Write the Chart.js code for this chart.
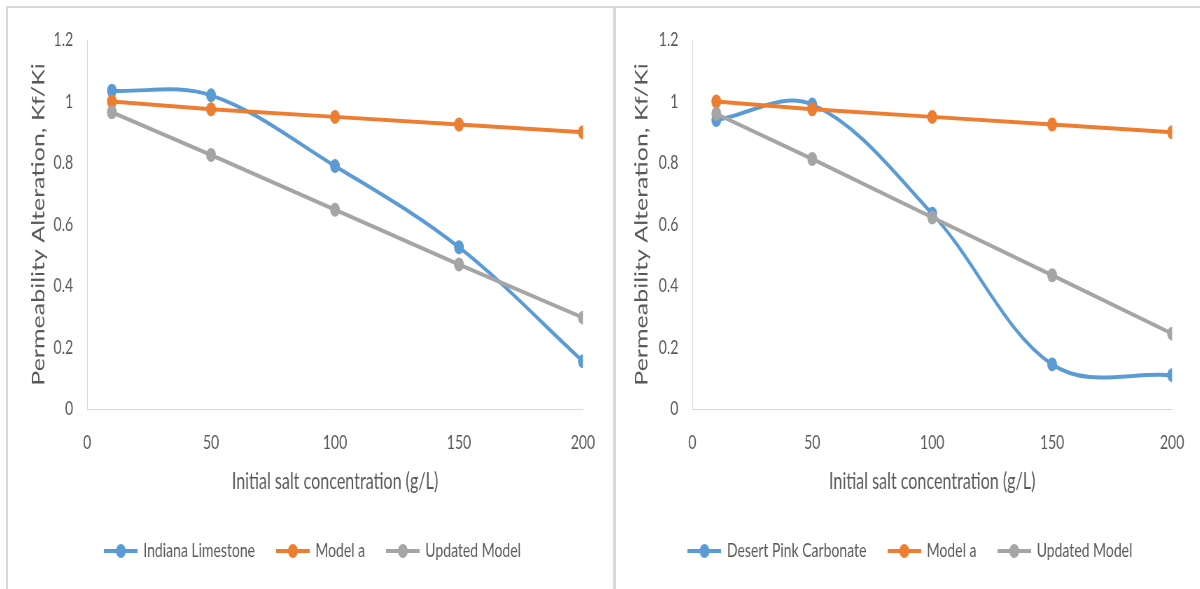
<!DOCTYPE html>
<html>
<head>
<meta charset="utf-8">
<script src="https://cdn.jsdelivr.net/npm/chart.js@4.4.1/dist/chart.umd.min.js"></script>
<style>
  html, body { margin: 0; padding: 0; background: #fff; }
  body { width: 1200px; height: 589px; position: relative; overflow: hidden; }
  .panel { position: absolute; top: 6px; height: 600px; border: 2px solid #d9d9d9; border-bottom: none; box-sizing: border-box; overflow: hidden; background: #fff; }
  .squash { position: absolute; left: 0; top: 0; height: 583px; transform-origin: 0 0; }
</style>
</head>
<body>
<div class="panel" style="left:6px; width:609px;"><div class="squash" id="wrapLeft"><canvas id="chartLeft"></canvas></div></div>
<div class="panel" style="left:614px; width:600px;"><div class="squash" id="wrapRight"><canvas id="chartRight"></canvas></div></div>
<script>
// Data
const concentration = [10, 50, 100, 150, 200];
const indianaLimestone = [1.035, 1.02, 0.79, 0.526, 0.155];
const desertPinkCarbonate = [0.94, 0.99, 0.635, 0.145, 0.11];
const modelA = [1.0, 0.975, 0.95, 0.925, 0.9];
const updatedModelIndiana = [0.965, 0.826, 0.648, 0.47, 0.297];
const updatedModelDesert = [0.96, 0.813, 0.623, 0.435, 0.245];
const xTicks = [0, 50, 100, 150, 200];
const yTicks = [0, 0.2, 0.4, 0.6, 0.8, 1, 1.2];
const yTickLabels = ['0', '0.2', '0.4', '0.6', '0.8', '1', '1.2'];

const BLUE = '#5b9bd5';
const ORANGE = '#ed7d31';
const GRAY = '#a5a5a5';
const TEXT = '#595959';
const AXIS = '#d9d9d9';
const SQ = 0.7; // horizontal squeeze of the whole drawing

Chart.defaults.font.family = 'Lato, "Open Sans", sans-serif';

// line + dot swatch for the legend
const legendIcon = (color) => {
  const c = document.createElement('canvas');
  c.width = 48;
  c.height = 20;
  const g = c.getContext('2d');
  g.strokeStyle = color;
  g.lineWidth = 4;
  g.beginPath();
  g.moveTo(0, 10);
  g.lineTo(48, 10);
  g.stroke();
  g.fillStyle = color;
  g.beginPath();
  g.arc(24, 10, 7, 0, Math.PI * 2);
  g.fill();
  return c;
};

// keep the legend centred on its own point instead of the padded box
const legendCenterPlugin = {
  id: 'legendCenter',
  afterLayout: (chart, args, opts) => {
    if (!chart.legend || opts.center == null) return;
    chart.legend.left = 0;
    chart.legend.right = opts.center * 2;
  }
};

const makeDataset = (label, values, color, smooth, order) => ({
  label,
  data: values.map((v, i) => ({ x: concentration[i], y: v })),
  borderColor: color,
  backgroundColor: color,
  borderWidth: 4,
  pointRadius: 7,
  pointHoverRadius: 7,
  pointBorderWidth: 0,
  tension: smooth ? 0.35 : 0,
  order
});

const createChart = (canvasId, wrapId, contentWidth, series, layout) => {
  const wrap = document.getElementById(wrapId);
  wrap.style.width = (contentWidth / SQ) + 'px';
  wrap.style.transform = `scaleX(${SQ})`;

  return new Chart(document.getElementById(canvasId), {
    type: 'line',
    data: {
      datasets: [
        makeDataset(series.name, series.measured, BLUE, true, 3),
        makeDataset('Model a', modelA, ORANGE, false, 2),
        makeDataset('Updated Model', series.updated, GRAY, false, 1)
      ]
    },
    plugins: [legendCenterPlugin],
    options: {
      responsive: true,
      maintainAspectRatio: false,
      animation: false,
      events: [],
      layout: { padding: { top: 29, right: layout.right, bottom: 20, left: 0 } },
      scales: {
        x: {
          type: 'linear',
          min: 0,
          max: 200,
          afterBuildTicks: (s) => { s.ticks = xTicks.map(v => ({ value: v })); },
          afterFit: (s) => { s.height = 100; },
          ticks: { color: TEXT, font: { size: 20 }, padding: 22, maxRotation: 0, callback: (v) => String(v) },
          grid: { display: false, drawTicks: false },
          border: { display: true, color: AXIS, width: 1 },
          title: {
            display: true,
            text: 'Initial salt concentration (g/L)',
            color: TEXT,
            font: { size: 23 },
            padding: { top: 0, bottom: 14 }
          }
        },
        y: {
          min: 0,
          max: 1.2,
          afterBuildTicks: (s) => { s.ticks = yTicks.map(v => ({ value: v })); },
          afterFit: (s) => { s.width = layout.axisWidth; },
          ticks: { color: TEXT, font: { size: 20 }, padding: 20, callback: (v, i) => yTickLabels[i] },
          grid: { display: false, drawTicks: false },
          border: { display: true, color: AXIS, width: 1 },
          title: {
            display: true,
            text: 'Permeability Alteration, Kf/Ki',
            color: TEXT,
            font: { size: 25 },
            padding: { top: layout.titleOffset, bottom: 0 }
          }
        }
      },
      plugins: {
        tooltip: { enabled: false },
        legendCenter: { center: layout.legendCenter },
        legend: {
          position: 'bottom',
          labels: {
            usePointStyle: true,
            pointStyleWidth: 44,
            padding: 32,
            color: TEXT,
            font: { size: 20 },
            sort: (a, b) => a.datasetIndex - b.datasetIndex,
            generateLabels: (chart) => {
              const items = Chart.defaults.plugins.legend.labels.generateLabels(chart);
              return items.map(item => ({ ...item, pointStyle: legendIcon(item.strokeStyle) }));
            }
          }
        }
      }
    }
  });
};

createChart('chartLeft', 'wrapLeft', 605,
  { name: 'Indiana Limestone', measured: indianaLimestone, updated: updatedModelIndiana },
  { right: 43, axisWidth: 113, titleOffset: 29, legendCenter: 436 });

createChart('chartRight', 'wrapRight', 596,
  { name: 'Desert Pink Carbonate', measured: desertPinkCarbonate, updated: updatedModelDesert },
  { right: 57, axisWidth: 109, titleOffset: 22, legendCenter: 421 });
</script>
</body>
</html>
